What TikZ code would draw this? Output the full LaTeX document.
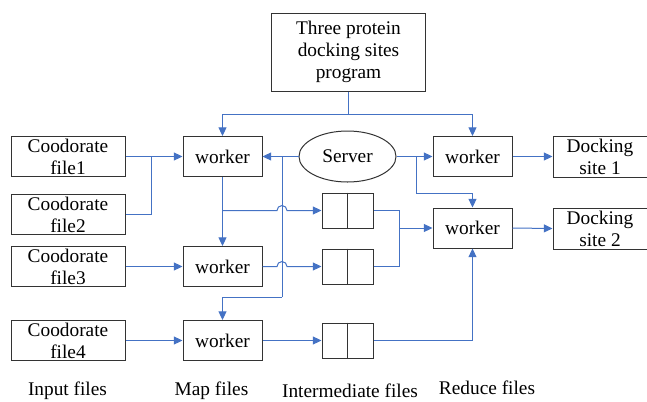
\documentclass[tikz,border=0pt]{standalone}
\usepackage{fontspec}
\setmainfont{Liberation Serif}
\usepackage{xcolor}
\usepackage{tikz}
\usetikzlibrary{arrows.meta, positioning, calc, shapes}
\definecolor{flow}{RGB}{68,114,196}

\begin{document}
\begin{tikzpicture}[x=0.75pt, y=-0.75pt,
    box/.style={draw=black!80, line width=0.75pt, rectangle, inner sep=0pt, align=center,
        font=\fontsize{14.5}{16.5}\selectfont},
    infile/.style={box, minimum width=85.5pt, minimum height=30pt},
    worker/.style={box, minimum width=59.25pt, minimum height=30pt},
    site/.style={box, minimum width=70.5pt, minimum height=30.75pt},
    buffer/.style={box, minimum width=38.25pt, minimum height=26.25pt},
    link/.style={draw=flow, line width=0.75pt},
    arr/.style={link, -{Triangle[length=6.5pt, width=6pt]}},
    caption/.style={font=\fontsize{14.5}{16.5}\selectfont}]
    \useasboundingbox (0,0) rectangle (647,401);

    \node[box, minimum width=116pt, minimum height=58.5pt] (P) at (348.5,52) {Three protein\\docking sites\\program};

    \node[infile] (F1) at (68,156.5) {Coodorate\\file1};
    \node[infile] (F2) at (68,214.5) {Coodorate\\file2};
    \node[infile] (F3) at (68,266.5) {Coodorate\\file3};
    \node[infile] (F4) at (68,340.5) {Coodorate\\file4};

    \node[worker] (W1) at (222.5,156.5) {worker};
    \node[worker] (W2) at (222.5,266.5) {worker};
    \node[worker] (W3) at (222.5,340.5) {worker};

    \node[draw=black!80, line width=0.75pt, ellipse, inner sep=0pt, minimum width=72.75pt,
        minimum height=38.25pt, font=\fontsize{14.5}{16.5}\selectfont] (S) at (347.5,156.5) {Server};

    \node[buffer] (I1) at (347.5,210.5) {};
    \node[buffer] (I2) at (347.5,266.5) {};
    \node[buffer] (I3) at (347.5,340.5) {};
    \draw[draw=black!80, line width=0.75pt] (I1.north) -- (I1.south);
    \draw[draw=black!80, line width=0.75pt] (I2.north) -- (I2.south);
    \draw[draw=black!80, line width=0.75pt] (I3.north) -- (I3.south);

    \node[worker] (R1) at (472.5,156.5) {worker};
    \node[worker] (R2) at (472.5,228) {worker};

    \node[site] (D1) at (600,156.5) {Docking\\site 1};
    \node[site] (D2) at (600,228.5) {Docking\\site 2};

    \node[caption] (L1) at (67.5,391) {Input files};
    \node[caption] (L2) at (211.5,391) {Map files};
    \node[caption] (L3) at (350,391) {Intermediate files};
    \node[caption] (L4) at (487,388) {Reduce files};

    % junction points
    \coordinate (tj) at (348.5,114);
    \coordinate (fj) at (151,156.5);
    \coordinate (bl) at (282,297);
    \coordinate (sr) at (416,193);
    \coordinate (ij) at (399,228);

    % program to workers
    \draw[link] (P.south) -- (tj);
    \draw[arr] (tj) -| (W1.north);
    \draw[arr] (tj) -| (R1.north);

    % input files
    \draw[arr] (F1.east) -- (W1.west);
    \draw[link] (F2.east) -| (fj);
    \draw[arr] (F3.east) -- (W2.west);
    \draw[arr] (F4.east) -- (W3.west);

    % server
    \draw[arr] (S.west) -- (W1.east);
    \draw[link] (W1.east -| bl) -- (bl);
    \draw[arr] (bl) -| (W3.north);
    \draw[arr] (S.east) -- (R1.west);
    \draw[link] (S.east -| sr) -- (sr);
    \draw[arr] (sr) -| (R2.north);

    % map workers to buffers
    \draw[arr] (W1.south) -- (W2.north);
    \draw[arr] (W1.south |- I1.west) -- ($(bl |- I1.west)+(-5,0)$) arc (180:360:5) -- (I1.west);
    \draw[arr] (W2.east) -- ($(bl |- I2.west)+(-5,0)$) arc (180:360:5) -- (I2.west);
    \draw[arr] (W3.east) -- (I3.west);

    % buffers to reduce
    \draw[link] (I1.east) -| (ij);
    \draw[link] (I2.east) -| (ij);
    \draw[arr] (ij) -- (R2.west);
    \draw[arr] (I3.east) -| (R2.south);

    \draw[arr] (R1.east) -- (D1.west);
    \draw[arr] (R2.east) -- (D2.west);
\end{tikzpicture}
\end{document}
